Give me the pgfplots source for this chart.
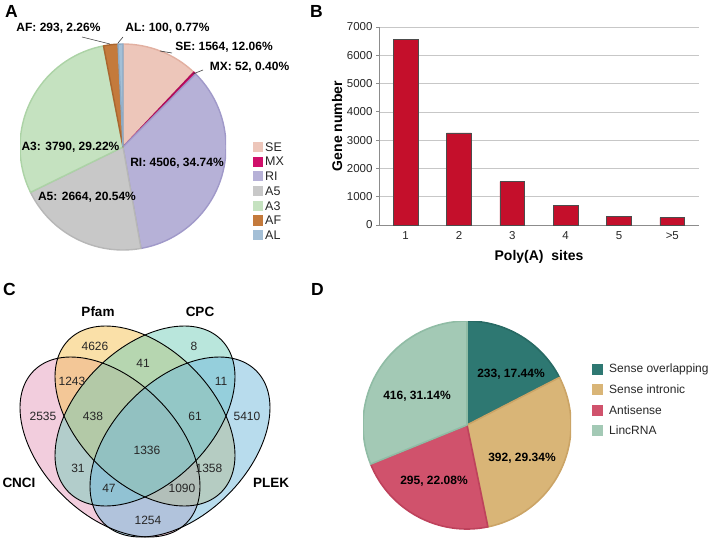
\documentclass[border=0pt]{standalone}
\usepackage{fontspec}
\setmainfont{Liberation Sans}
\usepackage{pgfplots}
\usepackage{pgfplotstable}
\pgfplotsset{compat=1.18}

% pie A colours (fill / border)
\definecolor{pA0}{HTML}{EDC6BA}\definecolor{pA0d}{HTML}{E2B0A1}
\definecolor{pA1}{HTML}{D0106B}\definecolor{pA1d}{HTML}{B00C5A}
\definecolor{pA2}{HTML}{B6B1D7}\definecolor{pA2d}{HTML}{A099C9}
\definecolor{pA3}{HTML}{C8C8C8}\definecolor{pA3d}{HTML}{B7B7B7}
\definecolor{pA4}{HTML}{C5E2C0}\definecolor{pA4d}{HTML}{ACD3A6}
\definecolor{pA5}{HTML}{C47A3C}\definecolor{pA5d}{HTML}{AA662F}
\definecolor{pA6}{HTML}{A4BFD6}\definecolor{pA6d}{HTML}{8DABC6}
% pie D colours
\definecolor{pD0}{HTML}{2E7872}\definecolor{pD0d}{HTML}{286A64}
\definecolor{pD1}{HTML}{D9B577}\definecolor{pD1d}{HTML}{CBA466}
\definecolor{pD2}{HTML}{D0526C}\definecolor{pD2d}{HTML}{BE425C}
\definecolor{pD3}{HTML}{A3C9B5}\definecolor{pD3d}{HTML}{90BCA5}
% bars, venn
\definecolor{barred}{HTML}{C40F2B}
\definecolor{vCNCI}{HTML}{E59BBC}
\definecolor{vPfam}{HTML}{F5C152}
\definecolor{vCPC}{HTML}{73CDB9}
\definecolor{vPLEK}{HTML}{72B9DC}

\pgfplotstableread{
type value
SE 1564
MX 52
RI 4506
A5 2664
A3 3790
AF 293
AL 100
}\asTable

\pgfplotstableread{
type value
overlapping 233
intronic 392
antisense 295
lincRNA 416
}\lncTable

% start/end angles, clockwise from the top
\newcommand\piecompute[2]{%
  \gdef\pietot{0}%
  \pgfplotstableforeachcolumnelement{value}\of#1\as\pv{%
    \pgfmathsetmacro\tmp{\pietot+\pv}\xdef\pietot{\tmp}}%
  \gdef\piecum{0}%
  \pgfplotstableforeachcolumnelement{value}\of#1\as\pv{%
    \pgfmathsetmacro\sa{90-360*(\piecum/\pietot)}%
    \pgfmathsetmacro\tmp{\piecum+\pv}\xdef\piecum{\tmp}%
    \pgfmathsetmacro\ea{90-360*(\piecum/\pietot)}%
    \expandafter\xdef\csname #2s\pgfplotstablerow\endcsname{\sa}%
    \expandafter\xdef\csname #2e\pgfplotstablerow\endcsname{\ea}}%
}
\newcommand\fs[1]{\fontsize{#1}{#1}\selectfont}

\begin{document}
\begin{tikzpicture}[x=1pt,y=1pt]
\useasboundingbox (0,0) rectangle (709,539);
\piecompute{\asTable}{pA}
\piecompute{\lncTable}{pD}
\coordinate (posA) at (123,392);
\coordinate (posB) at (379,314);
\coordinate (posC) at (0,0);
\coordinate (posD) at (467,114);

% ---------- A ----------
\begin{axis}[hide axis, scale only axis, width=206pt, height=206pt,
  xmin=-1, xmax=1, ymin=-1, ymax=1, at={(posA)}, anchor=center]
\pgfplotsinvokeforeach{0,...,6}{
  \filldraw[fill=pA#1, draw=pA#1d, line width=1.4pt, line join=round]
    (axis cs:0,0) -- ++(\csname pAs#1\endcsname:103pt)
    arc[start angle=\csname pAs#1\endcsname, end angle=\csname pAe#1\endcsname, radius=103pt] -- cycle;
}
\end{axis}
\begin{scope}[every node/.style={inner sep=0pt, font=\bfseries\fs{12}}]
\node at (58.5,511) {AF: 293, 2.26\%};
\node at (167.5,511) {AL: 100, 0.77\%};
\node at (224,492) {SE: 1564, 12.06\%};
\node at (249.5,472) {MX: 52, 0.40\%};
\node at (70.5,392) {A3: 3790, 29.22\%};
\node at (177,376) {RI: 4506, 34.74\%};
\node at (87,342) {A5: 2664, 20.54\%};
\end{scope}
\draw[black!75, line width=0.6pt] (82,502) -- (110,495);
\draw[black!75, line width=0.6pt] (118,496) -- (123,502);
\draw[black!75, line width=0.6pt] (160,488) -- (172,486);
\draw[black!75, line width=0.6pt] (193,465) -- (203,469);
\foreach \n [count=\i from 0] in {SE,MX,RI,A5,A3,AF,AL}{
  \fill[pA\i] (253,{387-14.7*\i}) rectangle ++(10,10);
  \node[anchor=west, inner sep=0pt, font=\fs{12.5}, text=black!85] at (265,{392-14.7*\i}) {\n};
}

% ---------- B ----------
\begin{axis}[at={(posB)}, anchor=south west, scale only axis,
  width=320pt, height=198pt,
  xmin=-0.5, xmax=5.5, ymin=0, ymax=7000,
  ytick={0,1000,...,7000}, xtick=data, xticklabels={1,2,3,4,5,{>5}},
  axis x line*=bottom, axis y line*=left,
  axis line style={draw=black!45, line width=0.8pt},
  ymajorgrids, grid style={draw=black!22, line width=0.7pt},
  xtick style={draw=none}, ytick style={draw=black!45, line width=0.8pt},
  tick align=outside, major tick length=3pt,
  tick label style={font=\fs{11.5}, text=black!85},
  xlabel={Poly(A)\ \ sites}, ylabel={Gene number},
  label style={font=\bfseries\fs{14}},
  xlabel style={at={(axis description cs:0.5,-0.162)}, anchor=center},
  ylabel style={at={(axis description cs:-0.131,0.5)}, anchor=center},
  ybar, bar width=24.7pt,
  /pgf/number format/.cd, 1000 sep={}, assume math mode=true]
\addplot[fill=barred, draw=black!70, line width=0.5pt] coordinates {
  (0,6550) (1,3260) (2,1530) (3,705) (4,305) (5,260)};
\end{axis}

% ---------- C ----------
\begin{axis}[hide axis, scale only axis, width=290pt, height=270pt,
  xmin=0, xmax=290, ymin=0, ymax=270, at={(posC)}, anchor=south west]
\fill[vCNCI, fill opacity=0.5, rotate around={-45:(axis cs:110,92)}] (axis cs:110,92) ellipse[x radius=107.8pt, y radius=67.6pt];
\fill[vPfam, fill opacity=0.5, rotate around={-45:(axis cs:145,123)}] (axis cs:145,123) ellipse[x radius=107.8pt, y radius=67.6pt];
\fill[vCPC, fill opacity=0.5, rotate around={45:(axis cs:145,123)}] (axis cs:145,123) ellipse[x radius=107.8pt, y radius=67.6pt];
\fill[vPLEK, fill opacity=0.5, rotate around={45:(axis cs:180,92)}] (axis cs:180,92) ellipse[x radius=107.8pt, y radius=67.6pt];
\draw[black, line width=0.9pt, rotate around={-45:(axis cs:110,92)}] (axis cs:110,92) ellipse[x radius=107.8pt, y radius=67.6pt];
\draw[black, line width=0.9pt, rotate around={-45:(axis cs:145,123)}] (axis cs:145,123) ellipse[x radius=107.8pt, y radius=67.6pt];
\draw[black, line width=0.9pt, rotate around={45:(axis cs:145,123)}] (axis cs:145,123) ellipse[x radius=107.8pt, y radius=67.6pt];
\draw[black, line width=0.9pt, rotate around={45:(axis cs:180,92)}] (axis cs:180,92) ellipse[x radius=107.8pt, y radius=67.6pt];
\end{axis}
\begin{scope}[every node/.style={inner sep=0pt, font=\fs{12}, text=black!85}]
\node at (95,193) {4626};
\node at (194,193) {8};
\node at (143,176) {41};
\node at (72,158) {1243};
\node at (221,158) {11};
\node at (43,123) {2535};
\node at (93,123) {438};
\node at (195,123) {61};
\node at (247,123) {5410};
\node at (147,89) {1336};
\node at (78,71) {31};
\node at (209,71) {1358};
\node at (109,51) {47};
\node at (182,51) {1090};
\node at (148,19) {1254};
\end{scope}
\begin{scope}[every node/.style={inner sep=0pt, font=\bfseries\fs{13.5}}]
\node at (98,227) {Pfam};
\node at (200,227) {CPC};
\node at (19,56) {CNCI};
\node at (271,56) {PLEK};
\end{scope}

% ---------- D ----------
\begin{axis}[hide axis, scale only axis, width=208pt, height=208pt,
  xmin=-1, xmax=1, ymin=-1, ymax=1, at={(posD)}, anchor=center]
\pgfplotsinvokeforeach{0,...,3}{
  \filldraw[fill=pD#1, draw=pD#1d, line width=1.6pt, line join=round]
    (axis cs:0,0) -- ++(\csname pDs#1\endcsname:104pt)
    arc[start angle=\csname pDs#1\endcsname, end angle=\csname pDe#1\endcsname, radius=104pt] -- cycle;
}
\end{axis}
\begin{scope}[every node/.style={inner sep=0pt, font=\bfseries\fs{12}}]
\node at (511,165) {233, 17.44\%};
\node at (522,81) {392, 29.34\%};
\node at (434,58) {295, 22.08\%};
\node at (417,143) {416, 31.14\%};
\end{scope}
\foreach \n [count=\i from 0] in {Sense overlapping,Sense intronic,Antisense,LincRNA}{
  \fill[pD\i] (592,{164.5-20.5*\i}) rectangle ++(11,11);
  \node[anchor=west, inner sep=0pt, font=\fs{12}, text=black!85] at (609,{170-20.5*\i}) {\n};
}

% panel letters
\begin{scope}[every node/.style={inner sep=0pt, anchor=north west, font=\bfseries\fs{17.5}}]
\node at (5,534) {A};
\node at (310,534) {B};
\node at (3,256) {C};
\node at (311,256) {D};
\end{scope}
\end{tikzpicture}
\end{document}
